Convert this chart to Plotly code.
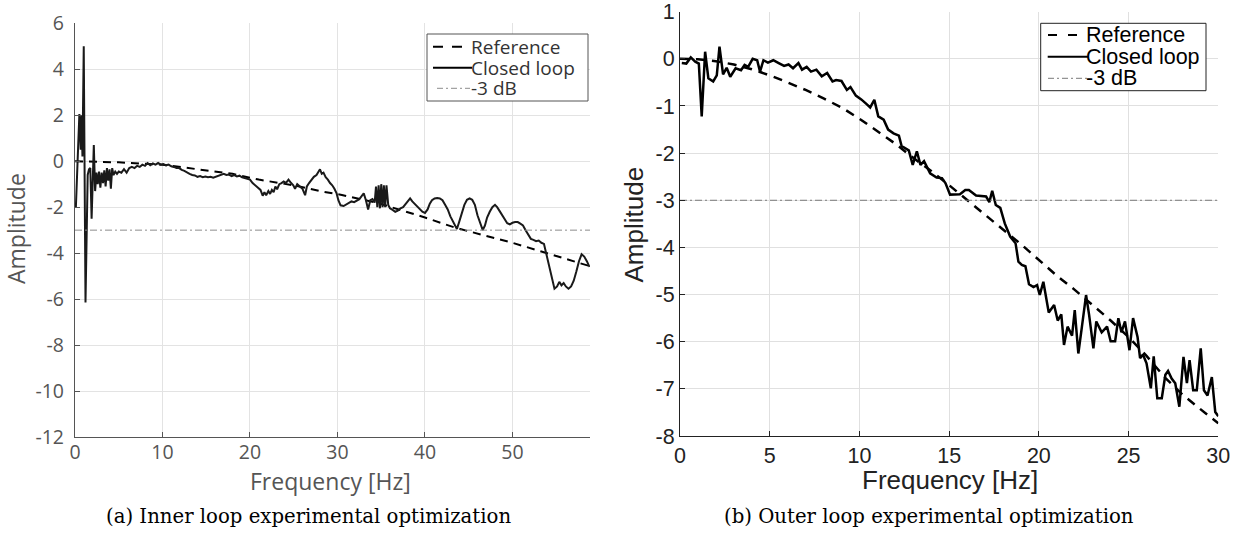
import plotly.graph_objects as go

W, H = 1245, 536

# ---------------- data: (a) inner loop ----------------
inner_freq = [0.1, 0.5, 0.65, 0.75, 0.85, 1.0, 1.2, 1.45, 1.6, 1.75, 1.9, 2.05, 2.15, 2.3, 2.45, 2.6, 2.75, 2.9,
              3.05, 3.2, 3.35, 3.5, 3.65, 3.8, 3.95, 4.1, 4.25, 4.4, 4.6, 4.8, 5.0, 5.3, 5.6, 5.9, 6.2, 6.5, 6.8,
              7.1, 7.4, 7.7, 8.0, 8.3, 8.6, 8.9, 9.2, 9.5, 9.8, 10.1, 10.4, 10.7, 11.0, 11.3, 11.6, 11.9, 12.2,
              12.5, 12.8, 13.1, 13.4, 13.7, 14.0, 14.3, 14.6, 14.9, 15.2, 15.5, 15.8, 16.1, 16.4, 16.7, 17.0,
              17.3, 17.6, 17.9, 18.2, 18.5, 18.8, 19.1, 19.4, 19.7, 20.0, 20.3, 20.6, 20.9, 21.2, 21.45, 21.65,
              21.85, 22.1, 22.3, 22.5, 22.7, 22.9, 23.1, 23.35, 23.6, 23.85, 24.1, 24.4, 24.7, 24.95, 25.15,
              25.4, 25.7, 26.0, 26.3, 26.5, 26.75, 27.0, 27.3, 27.6, 27.85, 28.0, 28.2, 28.4, 28.65, 28.9,
              29.15, 29.4, 29.65, 29.9, 30.1, 30.35, 30.7, 31.0, 31.3, 31.6, 31.9, 32.2, 32.5, 32.8, 33.0,
              33.25, 33.5, 33.75, 34.0, 34.25, 34.4, 34.55, 34.7, 34.85, 35.0, 35.15, 35.3, 35.45, 35.6, 35.8,
              36.0, 36.3, 36.6, 36.9, 37.2, 37.5, 37.8, 38.05, 38.3, 38.55, 38.8, 39.1, 39.4, 39.7, 40.0,
              40.3, 40.55, 40.8, 41.1, 41.4, 41.7, 42.0, 42.3, 42.6, 42.9, 43.2, 43.45, 43.65, 43.9, 44.2,
              44.5, 44.8, 45.1, 45.4, 45.7, 46.0, 46.3, 46.6, 46.85, 47.1, 47.4, 47.7, 48.0, 48.25, 48.5,
              48.8, 49.1, 49.4, 49.7, 50.0, 50.3, 50.6, 50.9, 51.2, 51.5, 51.8, 52.1, 52.4, 52.7, 53.0, 53.3,
              53.6, 53.9, 54.2, 54.5, 54.8, 55.1, 55.35, 55.6, 55.85, 56.1, 56.4, 56.7, 57.0, 57.3, 57.6,
              57.9, 58.2, 58.5, 58.8]
inner_closed = [-2.0, 2.05, 0.5, 2.0, 0.2, 5.0, -6.15, -0.6, -0.35, -0.3, -2.5, -0.5, 0.7, -1.3, -0.5, -1.0,
                -0.45, -1.15, -0.5, -0.95, -0.4, -1.1, -0.3, -0.85, -0.35, -1.2, -0.3, -0.6, -0.45, -0.55,
                -0.45, -0.5, -0.35, -0.5, -0.3, -0.25, -0.3, -0.2, -0.25, -0.15, -0.2, -0.08, -0.18, -0.1,
                -0.15, -0.08, -0.15, -0.12, -0.18, -0.15, -0.22, -0.25, -0.3, -0.3, -0.38, -0.42, -0.5, -0.55,
                -0.6, -0.62, -0.68, -0.65, -0.7, -0.67, -0.7, -0.68, -0.72, -0.68, -0.62, -0.6, -0.55, -0.6,
                -0.58, -0.65, -0.6, -0.66, -0.63, -0.7, -0.74, -0.76, -0.8, -0.95, -1.05, -1.15, -1.25, -1.5,
                -1.35, -1.48, -1.3, -1.42, -1.25, -1.35, -1.1, -1.22, -1.0, -0.95, -0.88, -0.95, -0.8, -0.95,
                -1.05, -1.2, -1.0, -1.1, -1.2, -1.48, -1.1, -0.95, -0.8, -0.68, -0.6, -0.45, -0.35, -0.55,
                -0.5, -0.7, -0.8, -0.95, -1.05, -1.2, -1.4, -1.7, -1.92, -1.95, -1.88, -1.8, -1.75, -1.78,
                -1.72, -1.65, -1.5, -1.4, -1.7, -2.1, -1.7, -1.65, -1.8, -1.1, -2.0, -1.05, -2.05, -1.0, -2.0,
                -1.05, -2.0, -1.05, -1.9, -2.05, -2.12, -2.2, -2.15, -2.05, -2.0, -1.85, -1.75, -1.62, -1.75,
                -1.85, -1.95, -2.1, -2.2, -2.25, -2.1, -1.85, -1.7, -1.62, -1.6, -1.62, -1.7, -1.9, -2.1, -2.4,
                -2.65, -2.85, -2.95, -2.65, -2.25, -1.9, -1.68, -1.62, -1.68, -1.9, -2.35, -2.7, -3.0, -2.8,
                -2.45, -2.2, -2.0, -1.9, -2.0, -2.15, -2.35, -2.55, -2.7, -2.75, -2.68, -2.65, -2.65, -2.72,
                -2.8, -3.0, -3.2, -3.38, -3.42, -3.48, -3.45, -3.55, -3.6, -4.1, -4.6, -5.1, -5.55, -5.45,
                -5.25, -5.4, -5.3, -5.45, -5.55, -5.45, -5.2, -4.8, -4.35, -4.05, -4.15, -4.35, -4.6]
inner_ref_freq = [0, 5, 10, 15, 18, 21, 25, 28, 30.5, 34.7, 40, 43.5, 46.4, 50, 53.3, 57.5, 60]
inner_ref = [0, -0.05, -0.15, -0.38, -0.55, -0.8, -1.05, -1.3, -1.47, -1.83, -2.45, -2.9, -3.2, -3.55,
             -3.93, -4.43, -4.7]

# ---------------- data: (b) outer loop ----------------
outer_freq = [0.1, 0.35, 0.6, 0.85, 1.05, 1.21, 1.4, 1.58, 1.85, 2.05, 2.2, 2.4, 2.6, 2.8, 3.1, 3.4, 3.6, 3.8,
              4.05, 4.3, 4.46, 4.65, 4.9, 5.2, 5.5, 5.8, 6.05, 6.3, 6.6, 6.8, 7.06, 7.3, 7.6, 7.9, 8.2, 8.5,
              8.7, 9.0, 9.3, 9.5, 9.8, 10.1, 10.4, 10.6, 10.83, 11.05, 11.35, 11.6, 11.9, 12.2, 12.35, 12.75,
              12.97, 13.2, 13.4, 13.6, 13.94, 14.3, 14.6, 14.8, 15.05, 15.6, 15.9, 16.1, 16.5, 17.06, 17.24,
              17.4, 17.6, 17.85, 18.1, 18.4, 18.7, 18.86, 19.05, 19.25, 19.45, 19.7, 19.9, 20.05, 20.25,
              20.55, 20.85, 21.05, 21.25, 21.4, 21.6, 21.85, 22.0, 22.2, 22.4, 22.63, 22.8, 23.04, 23.2,
              23.5, 23.8, 24.0, 24.25, 24.43, 24.6, 24.8, 25.05, 25.25, 25.5, 25.64, 25.8, 26.0, 26.24,
              26.4, 26.6, 26.85, 27.05, 27.2, 27.4, 27.6, 27.83, 28.06, 28.25, 28.4, 28.6, 28.8, 29.02,
              29.2, 29.4, 29.64, 29.83, 30.0]
outer_closed = [-0.09, -0.1, 0.03, -0.06, -0.1, -1.22, 0.15, -0.41, -0.48, -0.35, 0.26, -0.33, -0.19, -0.38,
                -0.2, -0.24, -0.13, -0.17, 0.0, -0.03, -0.27, -0.03, -0.08, -0.03, -0.09, -0.15, -0.12, -0.2,
                -0.09, -0.23, -0.17, -0.27, -0.23, -0.37, -0.3, -0.48, -0.45, -0.47, -0.66, -0.6, -0.78,
                -0.86, -0.96, -1.03, -0.87, -1.22, -1.29, -1.5, -1.58, -1.63, -1.85, -1.94, -2.25, -1.96,
                -2.25, -2.17, -2.43, -2.52, -2.53, -2.64, -2.88, -2.87, -2.78, -2.78, -2.9, -2.92, -3.04,
                -2.8, -3.1, -3.16, -3.49, -3.77, -3.91, -4.3, -4.37, -4.4, -4.78, -4.84, -4.8, -5.01, -4.73,
                -5.38, -5.22, -5.55, -5.42, -6.07, -5.68, -5.87, -5.33, -6.25, -5.68, -5.01, -5.43, -6.14,
                -5.57, -5.8, -5.68, -5.99, -5.99, -5.5, -5.8, -5.57, -6.18, -5.5, -5.9, -6.35, -6.27, -6.46,
                -6.99, -6.31, -7.2, -7.2, -6.7, -6.62, -6.78, -6.88, -7.38, -6.32, -6.88, -6.39, -7.03,
                -7.03, -6.14, -7.03, -7.14, -6.75, -7.49, -7.58]
outer_ref_freq = [0, 1, 2, 3, 4, 5, 6, 7, 8, 9, 10, 11, 12, 13, 14, 15, 16, 17, 18, 19, 20, 21, 22, 23, 24,
                  25, 26, 27, 28, 29, 30]
outer_ref = [0, -0.01, -0.05, -0.12, -0.22, -0.35, -0.5, -0.66, -0.84, -1.03, -1.27, -1.53, -1.8, -2.1,
             -2.38, -2.68, -3.0, -3.32, -3.62, -3.93, -4.27, -4.6, -4.9, -5.22, -5.55, -5.9, -6.3, -6.75,
             -7.12, -7.43, -7.73]

db3_level = -3

inner_yticks = [6, 4, 2, 0, -2, -4, -6, -8, -10, -12]
inner_yticktext = ["6", "4", "2", "0", "-2", "-4", "-6", "-8", "-10", "-12"]
inner_xticks = [0, 10, 20, 30, 40, 50]
outer_yticks = [1, 0, -1, -2, -3, -4, -5, -6, -7, -8]
outer_yticktext = ["1", "0", "-1", "-2", "-3", "-4", "-5", "-6", "-7", "-8"]
outer_xticks = [0, 5, 10, 15, 20, 25, 30]

legend_names = ["Reference", "Closed loop", "-3 dB"]


def px(x):
    return x / W


def py(y):
    return 1 - y / H


LFONT = "Open Sans"
RFONT = "Liberation Sans, Arial"
LCOL = "#555555"
RCOL = "#222222"

fig = go.Figure()

# (a)
fig.add_trace(go.Scatter(x=inner_ref_freq, y=inner_ref, mode="lines", xaxis="x", yaxis="y",
                         line=dict(color="#000000", width=2, dash="8px,6px"), showlegend=False))
fig.add_trace(go.Scatter(x=inner_freq, y=inner_closed, mode="lines", xaxis="x", yaxis="y",
                         line=dict(color="#1a1a1a", width=2), showlegend=False))
fig.add_trace(go.Scatter(x=[0, 60], y=[db3_level, db3_level], mode="lines", xaxis="x", yaxis="y",
                         line=dict(color="#8c8c8c", width=1, dash="7px,3px,2px,3px"), showlegend=False))
# (b)
fig.add_trace(go.Scatter(x=outer_ref_freq, y=outer_ref, mode="lines", xaxis="x2", yaxis="y2",
                         line=dict(color="#000000", width=2.5, dash="9px,7px"), showlegend=False))
fig.add_trace(go.Scatter(x=outer_freq, y=outer_closed, mode="lines", xaxis="x2", yaxis="y2",
                         line=dict(color="#000000", width=2.5), showlegend=False))
fig.add_trace(go.Scatter(x=[0, 30], y=[db3_level, db3_level], mode="lines", xaxis="x2", yaxis="y2",
                         line=dict(color="#7a7a7a", width=1, dash="7px,3px,2px,3px"), showlegend=False))

axis_common = dict(showgrid=True, zeroline=False, showline=True, ticks="inside", ticklen=5,
                   mirror=False, tickmode="array", automargin=False, ticklabeloverflow="allow")

fig.update_layout(
    template="none",
    width=W, height=H,
    margin=dict(l=0, r=0, t=0, b=0, pad=0),
    paper_bgcolor="white", plot_bgcolor="white",
    showlegend=False,
    xaxis=dict(**axis_common, domain=[px(75), px(590)], range=[0, 58.86], tickvals=inner_xticks,
               ticktext=[str(v) for v in inner_xticks], gridcolor="#e3e3e3", linecolor="#555555",
               tickcolor="#555555", linewidth=1.2, tickfont=dict(family=LFONT, size=19.5, color=LCOL),
               anchor="y", ticklabelstandoff=-3),
    yaxis=dict(**axis_common, domain=[py(437), py(23.3)], range=[-12, 6], tickvals=inner_yticks,
               ticktext=inner_yticktext, gridcolor="#e3e3e3", linecolor="#555555",
               tickcolor="#555555", linewidth=1.2, tickfont=dict(family=LFONT, size=19.5, color=LCOL),
               anchor="x", ticklabelstandoff=6),
    xaxis2=dict(**axis_common, domain=[px(680), px(1218.3)], range=[0, 30], tickvals=outer_xticks,
                ticktext=[str(v) for v in outer_xticks], gridcolor="#e0e0e0", gridwidth=1.3,
                linecolor="#222222", tickcolor="#222222", linewidth=1.2,
                tickfont=dict(family=RFONT, size=21.5, color=RCOL), anchor="y2"),
    yaxis2=dict(**axis_common, domain=[py(436), py(11.7)], range=[-8, 1], tickvals=outer_yticks,
                ticktext=outer_yticktext, gridcolor="#e0e0e0", gridwidth=1.3,
                linecolor="#222222", tickcolor="#222222", linewidth=1.2,
                tickfont=dict(family=RFONT, size=21.5, color=RCOL), anchor="x2"),
)

annotations = []
shapes = []


def note(x, y, text, family, size, color, angle=0, xanchor="center"):
    annotations.append(dict(x=px(x), y=py(y), xref="paper", yref="paper", text=text, textangle=angle,
                            xanchor=xanchor, yanchor="middle", showarrow=False,
                            font=dict(family=family, size=size, color=color)))


# axis titles
note(330, 481, "Frequency [Hz]", LFONT, 23, LCOL)
note(16, 229, "Amplitude", LFONT, 23, LCOL, angle=-90)
note(949.5, 480, "Frequency [Hz]", RFONT, 26, RCOL)
note(633, 224.5, "Amplitude", RFONT, 26, RCOL, angle=-90)

# captions
note(308.5, 516, "(a) Inner loop experimental optimization", "DejaVu Serif", 19.7, "#000000")
note(929, 516, "(b) Outer loop experimental optimization", "DejaVu Serif", 19.7, "#000000")


def legend(box, rows, samples, text_x, font, fcol, bcol, grey, dashes):
    x0, x1, y0, y1 = box
    shapes.append(dict(type="rect", xref="paper", yref="paper", x0=px(x0), x1=px(x1), y0=py(y1), y1=py(y0),
                       line=dict(color=bcol, width=1), fillcolor="white", layer="above"))
    styles = [dict(color="#000000", width=2, dash=dashes[0]),
              dict(color="#000000", width=2),
              dict(color=grey, width=1, dash=dashes[1])]
    for name, ry, (sx0, sx1), st in zip(legend_names, rows, samples, styles):
        shapes.append(dict(type="line", xref="paper", yref="paper", x0=px(sx0), x1=px(sx1), y0=py(ry),
                           y1=py(ry), line=st, layer="above"))
        note(text_x, ry, name, font[0], font[1], fcol, xanchor="left")


legend((427, 588, 34, 101), (46.7, 67.7, 88.3), ((433, 462), (433, 472), (437, 470)), 469,
       (LFONT, 19), "#333333", "#555555", "#8c8c8c", ("10px,9px", "6px,3px,2px,3px"))
legend((1040.7, 1206, 23.3, 90.7), (35, 56.7, 78.3), ((1048, 1077), (1047.7, 1088), (1048, 1087)), 1084,
       ("Liberation Sans", 21.5), "#000000", "#222222", "#7a7a7a", ("9px,11px", "6px,3px,2px,3px"))

fig.update_layout(annotations=annotations, shapes=shapes)

fig.write_html("out.html")
